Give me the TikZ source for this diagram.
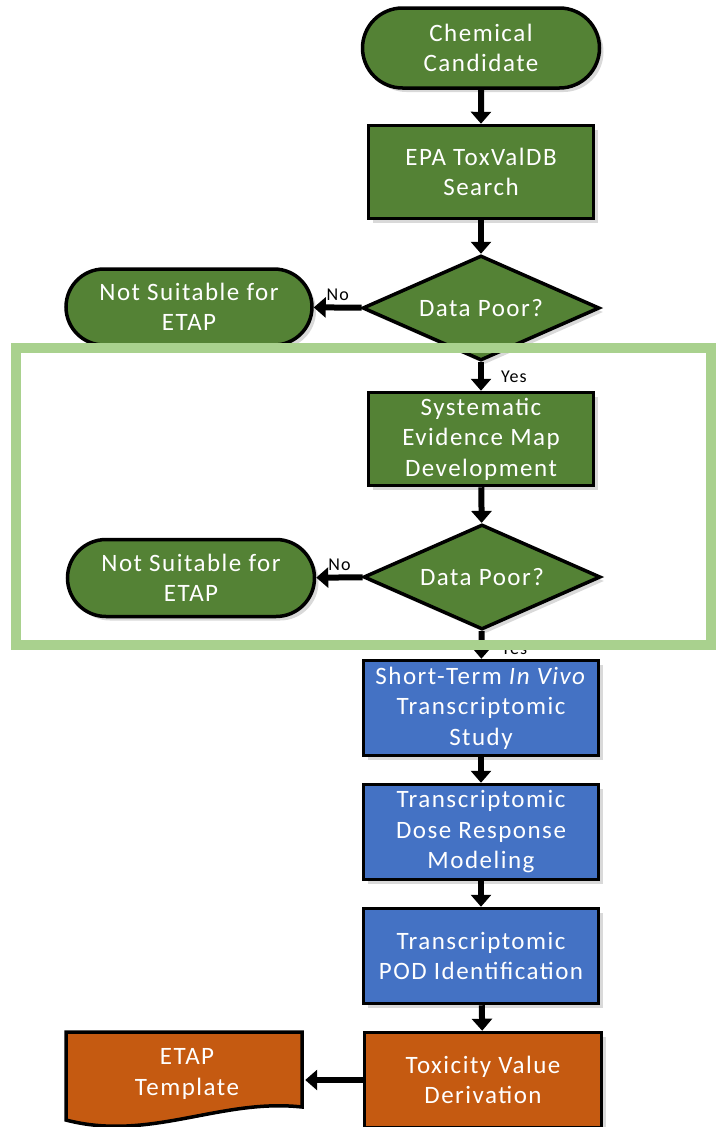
\documentclass[tikz,border=0pt]{standalone}
\usepackage{fontspec}
\setmainfont{Carlito}[LetterSpace=6]
\usetikzlibrary{shapes.geometric}
\usetikzlibrary{shapes.misc}
\usetikzlibrary{arrows.meta}
\usetikzlibrary{shadows}

\definecolor{etapgreen}{HTML}{548235}
\definecolor{etapblue}{HTML}{4472C4}
\definecolor{etaporange}{HTML}{C55A11}
\definecolor{framegreen}{HTML}{A9D18E}

\begin{document}
\begin{tikzpicture}[x=1pt, y=-1pt,
    box/.style={draw=black, line width=3.5pt, text=white, align=center,
      font=\fontsize{25}{30.5}\selectfont, inner sep=0pt,
      drop shadow={opacity=0.3, shadow xshift=4pt, shadow yshift=-4pt}},
    term/.style={box, rounded rectangle, fill=etapgreen},
    greenbox/.style={box, rectangle, fill=etapgreen, minimum width=225pt, minimum height=93pt},
    bluebox/.style={box, rectangle, fill=etapblue, minimum width=235pt, minimum height=95pt},
    orangebox/.style={box, rectangle, fill=etaporange, minimum width=237pt, minimum height=95pt},
    decision/.style={box, diamond, fill=etapgreen, inner sep=-14pt, aspect=2.25,
      minimum width=237pt, minimum height=105pt},
    flow/.style={line width=6pt, -{Triangle[length=12pt, width=20pt]}},
    answer/.style={font=\fontsize{18}{20}\selectfont, inner sep=1pt}]
    \useasboundingbox (0,0) rectangle (716,1127);

    % upper branch
    \node[term, minimum width=237pt, minimum height=80pt] (cand) at (481,48) {Chemical\\Candidate};
    \node[greenbox] (toxval) at (481,172) {EPA ToxValDB\\Search};
    \node[decision] (poor1) at (481,308) {Data Poor?};
    \node[term, minimum width=246pt, minimum height=76pt] (unfit1) at (189,307) {Not Suitable for\\ETAP};

    % evidence map
    \node[greenbox] (sem) at (481,439) {Systematic\\Evidence Map\\Development};
    \node[decision] (poor2) at (482,577) {Data Poor?};
    \node[term, minimum width=247pt, minimum height=77pt] (unfit2) at (191,578) {Not Suitable for\\ETAP};

    % transcriptomics
    \node[bluebox] (study) at (481,708) {Short-Term \textit{In Vivo}\\Transcriptomic\\Study};
    \node[bluebox] (bmd) at (481,832) {Transcriptomic\\Dose Response\\Modeling};
    \node[bluebox] (pod) at (481,956) {Transcriptomic\\POD Identification};
    \node[orangebox] (toxv) at (483,1080) {Toxicity Value\\Derivation};

    % template
    \draw[line width=3.5pt, fill=etaporange] (66,1032) -- (302,1032) -- (302,1107)
      .. controls (220,1098) and (150,1142) .. (66,1120) -- cycle;
    \node[text=white, align=center, font=\fontsize{25}{30.5}\selectfont,
      minimum width=236pt, minimum height=84pt, inner sep=0pt] (tmpl) at (187,1074) {ETAP\\Template};

    \draw[flow] (cand) -- (toxval);
    \draw[flow] (toxval) -- (poor1);
    \draw[flow] (poor1) -- node[answer, above=3pt] {No} (unfit1);
    \draw[flow] (poor1) -- node[answer, right=16pt] {Yes} (sem);
    \draw[flow] (sem) -- (poor2);
    \draw[flow] (poor2) -- node[answer, above=3pt] {No} (unfit2);
    \draw[flow] (poor2) -- node[answer, right=16pt, yshift=-4pt] {Yes} (study);
    \draw[flow] (study) -- (bmd);
    \draw[flow] (bmd) -- (pod);
    \draw[flow] (pod) -- (toxv);
    \draw[flow] (toxv.west) -- (toxv.west -| tmpl.east);

    \draw[framegreen, line width=10pt] (16,348) rectangle (711,645);
\end{tikzpicture}
\end{document}
